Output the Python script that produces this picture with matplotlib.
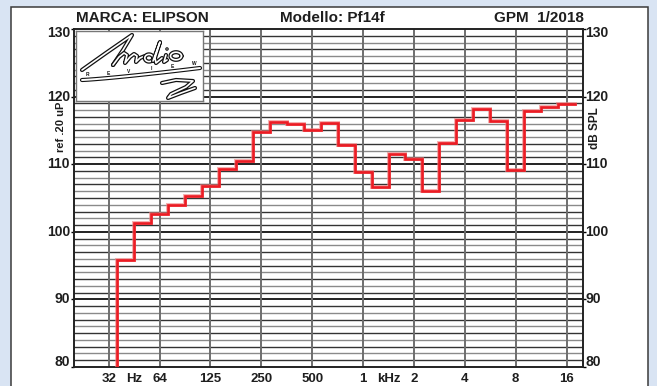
import numpy as np
import matplotlib
matplotlib.use("Agg")
import matplotlib.pyplot as plt
from matplotlib.patches import Rectangle, Ellipse
import matplotlib.patheffects as pe
from matplotlib.transforms import blended_transform_factory, offset_copy

plt.rcParams['font.family'] = ['Liberation Sans', 'DejaVu Sans']

# Third-octave band centres (Hz) and measured level (dB SPL)
band_centres = [40, 50, 63, 80, 100, 125, 160, 200, 250, 315, 400, 500, 630, 800,
                1000, 1250, 1600, 2000, 2500, 3150, 4000, 5000, 6300, 8000,
                10000, 12500, 16000]
band_index = list(range(-14, 13))          # n in 1000 * 2^(n/3)
levels_db = [95.8, 101.3, 102.6, 103.9, 105.3, 106.8, 109.3, 110.5, 114.7, 116.2,
             116.0, 115.0, 116.1, 112.8, 108.8, 106.7, 111.5, 110.8, 106.0, 113.1,
             116.5, 118.1, 116.4, 109.1, 117.9, 118.4, 118.9]

octave_labels = ["32", "64", "125", "250", "500", "1", "2", "4", "8", "16"]
octave_index = list(range(-5, 5))           # 1000 * 2^k
db_ticks = [80, 90, 100, 110, 120, 130]

INK = '#1e1e1e'
W, H = 657, 386
fig = plt.figure(figsize=(W / 100, H / 100), dpi=100)
fig.patch.set_facecolor('#d9e4f3')

# white card behind the chart
bg = fig.add_axes([0, 0, 1, 1], zorder=-10)
bg.set_xlim(0, W)
bg.set_ylim(H, 0)
bg.axis('off')
bg.add_patch(Rectangle((10.5, 6.5), 637, 400, facecolor='white',
                       edgecolor='#3a3a3a', linewidth=1.1))

L, R, T, B = 74, 583, 29, 367
ax = fig.add_axes([L / W, 1 - B / H, (R - L) / W, (B - T) / H], zorder=1)
ax.set_xscale('log')
ax.set_xlim(19.5, 20000)
ax.set_ylim(80, 130)
ax.set_facecolor('white')

# horizontal grid: every dB, darker every 10 dB
for d in range(81, 130):
    if d % 10 == 0:
        ax.axhline(d, color='#111111', lw=1.3, zorder=1)
    else:
        ax.axhline(d, color='#333333' if d % 2 else '#8a8a8a', lw=1.0, zorder=1)

octave_freqs = [1000 * 2.0 ** k for k in octave_index]
for f in octave_freqs:
    ax.axvline(f, color='#6e6e6e', lw=1.4, zorder=1)

for s in ax.spines.values():
    s.set_color('#222222')
    s.set_linewidth(1.4)

ax.set_xticks(octave_freqs)
ax.set_xticklabels(octave_labels, fontweight='bold', color=INK)
ax.xaxis.set_minor_locator(matplotlib.ticker.NullLocator())
ax.tick_params(axis='x', length=0, pad=4.5, labelsize=9.5)

ax.set_yticks(db_ticks)
ax.tick_params(axis='y', left=True, right=True, labelleft=False, labelright=False,
               length=2, width=1)

# dB labels on both sides, the end values tucked inside the frame
nudge_px = {130: -4.0, 80: 5.5}
for v in db_ticks:
    dy = nudge_px.get(v, 0.0)
    ty = offset_copy(ax.transData, fig=fig, x=0, y=dy, units='dots')
    ax.text(0, v, str(v), transform=blended_transform_factory(
        offset_copy(ax.transAxes, fig=fig, x=-4.0, y=0, units='dots'), ty),
        ha='right', va='center', fontsize=10, fontweight='bold', color=INK)
    ax.text(1, v, str(v), transform=blended_transform_factory(
        offset_copy(ax.transAxes, fig=fig, x=2.5, y=0, units='dots'), ty),
        ha='left', va='center', fontsize=10, fontweight='bold', color=INK)

bt = blended_transform_factory(ax.transData, ax.transAxes)
for f, unit in [(1000 * 2.0 ** -4.5, "Hz"), (1000 * 2.0 ** 0.5, "kHz")]:
    ax.text(f, 0, unit, transform=offset_copy(bt, fig=fig, x=0, y=-6.2, units='dots'),
            ha='center', va='top', fontsize=9.5, fontweight='bold', color=INK)

# unit labels at both sides
fig.text(60.5 / W, 1 - 127 / H, "ref .20 uP", rotation=90, ha='center', va='center',
         fontsize=8, fontweight='bold', color=INK)
fig.text(595 / W, 1 - 128 / H, "dB SPL", rotation=90, ha='center', va='center',
         fontsize=8.5, fontweight='bold', color=INK)

# header line
fig.text(76 / W, 1 - 18 / H, "MARCA: ELIPSON", ha='left', va='center',
         fontsize=11, fontweight='bold', color=INK)
fig.text(332 / W, 1 - 18 / H, "Modello: Pf14f", ha='center', va='center',
         fontsize=11, fontweight='bold', color=INK)
fig.text(584 / W, 1 - 18 / H, "GPM  1/2018", ha='right', va='center',
         fontsize=11, fontweight='bold', color=INK)

# third-octave response as a staircase
centres = np.array([1000 * 2.0 ** (n / 3) for n in band_index])
edges = np.concatenate([centres * 2 ** (-1 / 6), [centres[-1] * 2 ** (1 / 6)]])
xs = np.concatenate([[edges[0]], edges])
ys = np.concatenate([[70.0], levels_db, [levels_db[-1]]])
ax.plot(xs, ys, drawstyle='steps-post', color='#f08080', lw=2.9, alpha=0.6,
        zorder=4, solid_joinstyle='miter')
ax.plot(xs, ys, drawstyle='steps-post', color='#ec1c24', lw=1.9, zorder=5,
        solid_joinstyle='miter')

# magazine logo panel
lx0, ly0, lw_, lh_ = 76, 31, 127, 70
lax = fig.add_axes([lx0 / W, 1 - (ly0 + lh_) / H, lw_ / W, lh_ / H], zorder=6)
lax.set_xlim(0, lw_)
lax.set_ylim(lh_, 0)
lax.set_facecolor('white')
lax.set_xticks([])
lax.set_yticks([])
for s in lax.spines.values():
    s.set_color('#777777')
    s.set_linewidth(1.0)

outline = [pe.Stroke(linewidth=3.0, foreground='#111111'), pe.Normal()]
style = dict(color='white', lw=1.2, path_effects=outline,
             solid_capstyle='round', solid_joinstyle='round')
# cursive lettering drawn as hollow strokes
lax.plot([6, 30, 56, 47, 37], [39, 22, 4, 19, 34], **style)
lax.plot([37, 43, 48, 51, 49, 54, 58, 61, 60, 64, 69],
         [34, 26, 22, 24, 32, 26, 23, 25, 31, 27, 25], **style)
t = np.linspace(0, 2 * np.pi, 40)
lax.plot(73 + 4.2 * np.cos(t), 27 + 3.6 * np.sin(t), **style)
lax.plot([77, 84, 79, 80, 86], [30, 11, 27, 32, 27], **style)
lax.plot([90, 88, 91], [24, 31, 29], **style)
lax.plot(100 + 5.5 * np.cos(t), 25 + 3.8 * np.sin(t), **style)
lax.add_patch(Ellipse((91, 18), 2.4, 2.4, facecolor='white', edgecolor='#111111', lw=0.8))
# baseline swoosh
bx = np.linspace(6, 124, 60)
by = 49 - 12 * ((bx - 6) / 118) ** 1.2
lax.plot(bx, by, color='white', lw=1.4, path_effects=outline, solid_capstyle='round')
for xm, ch in zip([11, 32, 53, 75, 96, 118], "REVIEW"):
    ym = 49 - 12 * ((xm - 6) / 118) ** 1.2
    lax.text(xm, ym - 2.5, ch, ha='center', va='bottom', fontsize=3.5,
             fontweight='bold', color='#111111')
# trailing "S" flourish
sx = [86, 100, 117, 110, 95, 92, 105, 119]
sy = [52, 49, 50, 56, 63, 67, 62, 57]
lax.plot(sx, sy, **style)

fig.savefig("out.png", dpi=100, facecolor=fig.get_facecolor())
